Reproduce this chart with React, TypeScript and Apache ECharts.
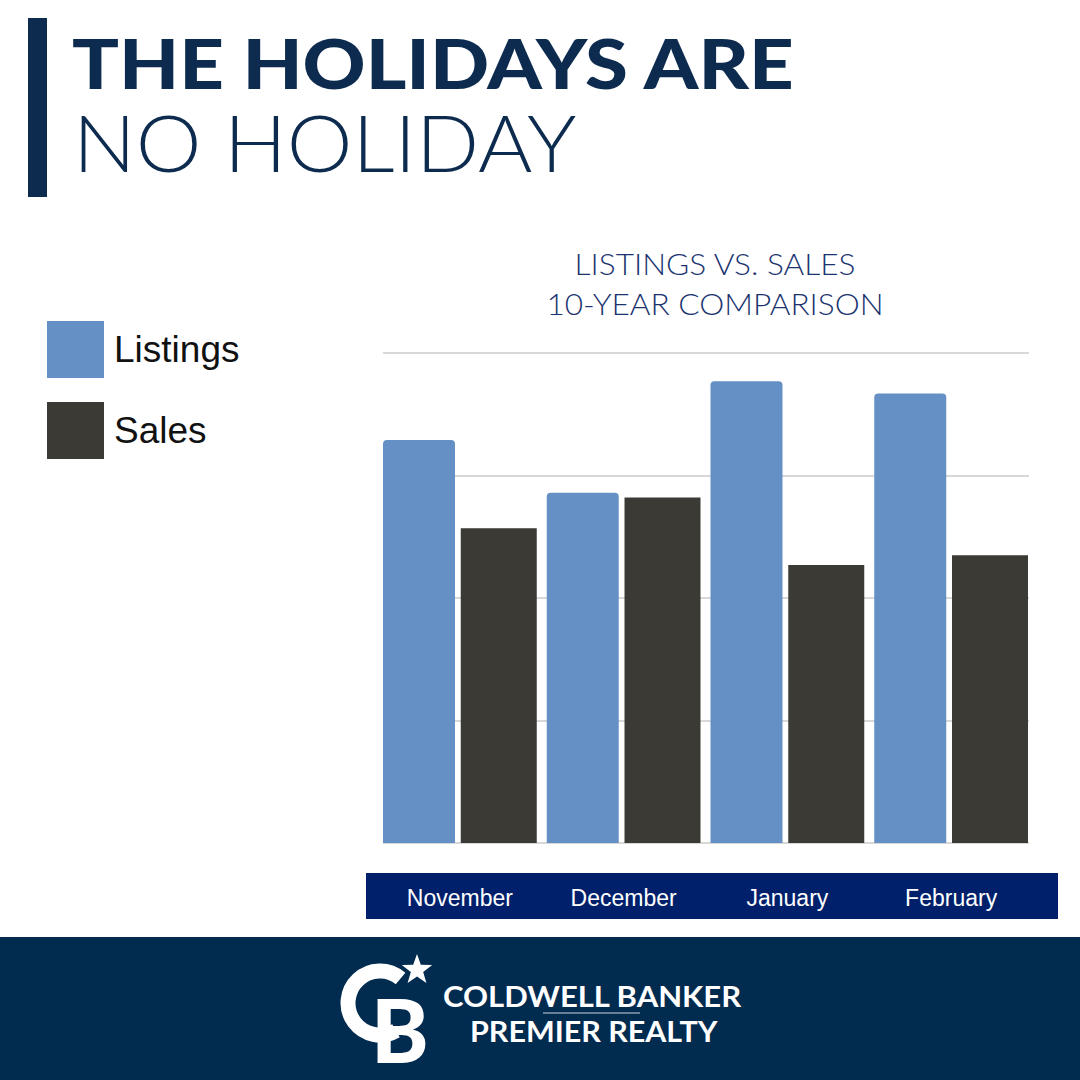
import React, { useEffect, useRef } from 'react';
import * as echarts from 'echarts';

const categories = ['November', 'December', 'January', 'February'];
const seriesNames = ['Listings', 'Sales'];
const listings = [329, 286, 377, 367];
const sales = [257, 282, 227, 235];
const yMin = 0;
const yMax = 400;
const yInterval = 100;

const headline1 = 'THE HOLIDAYS ARE';
const headline2 = 'NO HOLIDAY';
const chartTitle1 = 'LISTINGS VS. SALES';
const chartTitle2 = '10-YEAR COMPARISON';
const brand1 = 'COLDWELL BANKER';
const brand2 = 'PREMIER REALTY';

function starPoints(cx: number, cy: number, R: number, r: number) {
  const pts: number[][] = [];
  for (let i = 0; i < 10; i++) {
    const a = -Math.PI / 2 + (i * Math.PI) / 5;
    const rad = i % 2 === 0 ? R : r;
    pts.push([cx + rad * Math.cos(a), cy + rad * Math.sin(a)]);
  }
  return pts;
}

export default function App() {
  const ref = useRef<HTMLDivElement>(null);
  useEffect(() => {
    if (!ref.current) return;
    const chart = echarts.init(ref.current, null, { renderer: 'svg' });
    const navy = '#0c2b4f';
    const titleText = (text: string, y: number) => ({
      type: 'text',
      x: 715,
      y,
      scaleX: 1.09,
      style: {
        text,
        fontFamily: 'Lato',
        fontWeight: 300,
        fontSize: 29,
        fill: '#1b3470',
        align: 'center',
        verticalAlign: 'middle',
      },
    });
    chart.setOption({
      animation: false,
      backgroundColor: '#ffffff',
      legend: {
        data: seriesNames,
        orient: 'vertical',
        left: 47,
        top: 321,
        padding: 0,
        icon: 'rect',
        itemWidth: 57,
        itemHeight: 57,
        itemGap: 24,
        selectedMode: false,
        textStyle: {
          fontFamily: 'Liberation Sans',
          fontSize: 37,
          color: '#111111',
          padding: [0, 0, 0, 5],
        },
      },
      grid: [
        { left: 378, right: 47, top: 353, bottom: 237 },
        { left: 383, right: 51, top: 353, bottom: 237 },
      ],
      xAxis: [
        {
          type: 'category',
          gridIndex: 0,
          data: categories,
          axisLine: { show: false },
          axisTick: { show: false },
          axisLabel: {
            color: '#ffffff',
            fontFamily: 'Liberation Sans',
            fontSize: 23,
            margin: 55,
            verticalAlign: 'middle',
          },
        },
        { type: 'value', gridIndex: 1, min: 0, max: 1, show: false },
      ],
      yAxis: [
        {
          type: 'value',
          gridIndex: 0,
          min: yMin,
          max: yMax,
          interval: yInterval,
          show: false,
          splitLine: { show: false },
        },
        {
          type: 'value',
          gridIndex: 1,
          min: yMin,
          max: yMax,
          interval: yInterval,
          axisLine: { show: false },
          axisTick: { show: false },
          axisLabel: { show: false },
          splitLine: { show: true, lineStyle: { color: '#cbcbcb', width: 1.5 } },
        },
      ],
      series: [
        {
          name: seriesNames[0],
          type: 'bar',
          xAxisIndex: 0,
          yAxisIndex: 0,
          data: listings,
          barWidth: 72,
          barGap: '8%',
          itemStyle: { color: '#6590c6', borderRadius: [4, 4, 0, 0] },
        },
        {
          name: seriesNames[1],
          type: 'bar',
          xAxisIndex: 0,
          yAxisIndex: 0,
          data: sales,
          barWidth: 76,
          barGap: '8%',
          itemStyle: { color: '#3b3a35' },
        },
      ],
      graphic: [
        { type: 'rect', z: -10, shape: { x: 28, y: 18, width: 19, height: 179 }, style: { fill: navy } },
        {
          type: 'text',
          x: 72,
          y: 62.5,
          scaleX: 1.145,
          style: {
            text: headline1,
            fontFamily: 'Lato',
            fontWeight: 900,
            fontSize: 68,
            fill: navy,
            align: 'left',
            verticalAlign: 'middle',
          },
        },
        {
          type: 'text',
          x: 73,
          y: 142,
          scaleX: 1.065,
          style: {
            text: headline2,
            fontFamily: 'Lato',
            fontWeight: 300,
            fontSize: 78,
            fill: navy,
            align: 'left',
            verticalAlign: 'middle',
          },
        },
        titleText(chartTitle1, 264),
        titleText(chartTitle2, 304),
        { type: 'rect', z: -10, shape: { x: 366, y: 873, width: 692, height: 46 }, style: { fill: '#00206b' } },
        { type: 'rect', z: -10, shape: { x: 0, y: 937, width: 1080, height: 143 }, style: { fill: '#012b4f' } },
        {
          type: 'arc',
          shape: { cx: 380, cy: 1003, r: 32, startAngle: Math.PI / 3, endAngle: (310 * Math.PI) / 180, clockwise: true },
          style: { stroke: '#ffffff', lineWidth: 15, fill: 'none' },
        },
        {
          type: 'text',
          x: 371,
          y: 1029,
          style: {
            text: 'B',
            fontFamily: 'Lato',
            fontWeight: 900,
            fontSize: 87,
            fill: '#ffffff',
            align: 'left',
            verticalAlign: 'middle',
          },
        },
        {
          type: 'polygon',
          shape: { points: starPoints(417, 970, 16, 6.5) },
          style: { fill: '#ffffff' },
        },
        {
          type: 'text',
          x: 443,
          y: 995,
          scaleX: 1.07,
          style: {
            text: brand1,
            fontFamily: 'Lato',
            fontWeight: 700,
            fontSize: 29,
            fill: '#ffffff',
            align: 'left',
            verticalAlign: 'middle',
          },
        },
        {
          type: 'line',
          shape: { x1: 543, y1: 1013, x2: 640, y2: 1013 },
          style: { stroke: '#8a9bb0', lineWidth: 1.5 },
        },
        {
          type: 'text',
          x: 470,
          y: 1031,
          scaleX: 1.05,
          style: {
            text: brand2,
            fontFamily: 'Lato',
            fontWeight: 700,
            fontSize: 29,
            fill: '#ffffff',
            align: 'left',
            verticalAlign: 'middle',
          },
        },
      ],
    });
    return () => chart.dispose();
  }, []);
  return <div ref={ref} style={{ position: 'fixed', left: 0, top: 0, width: 1080, height: 1080 }} />;
}
